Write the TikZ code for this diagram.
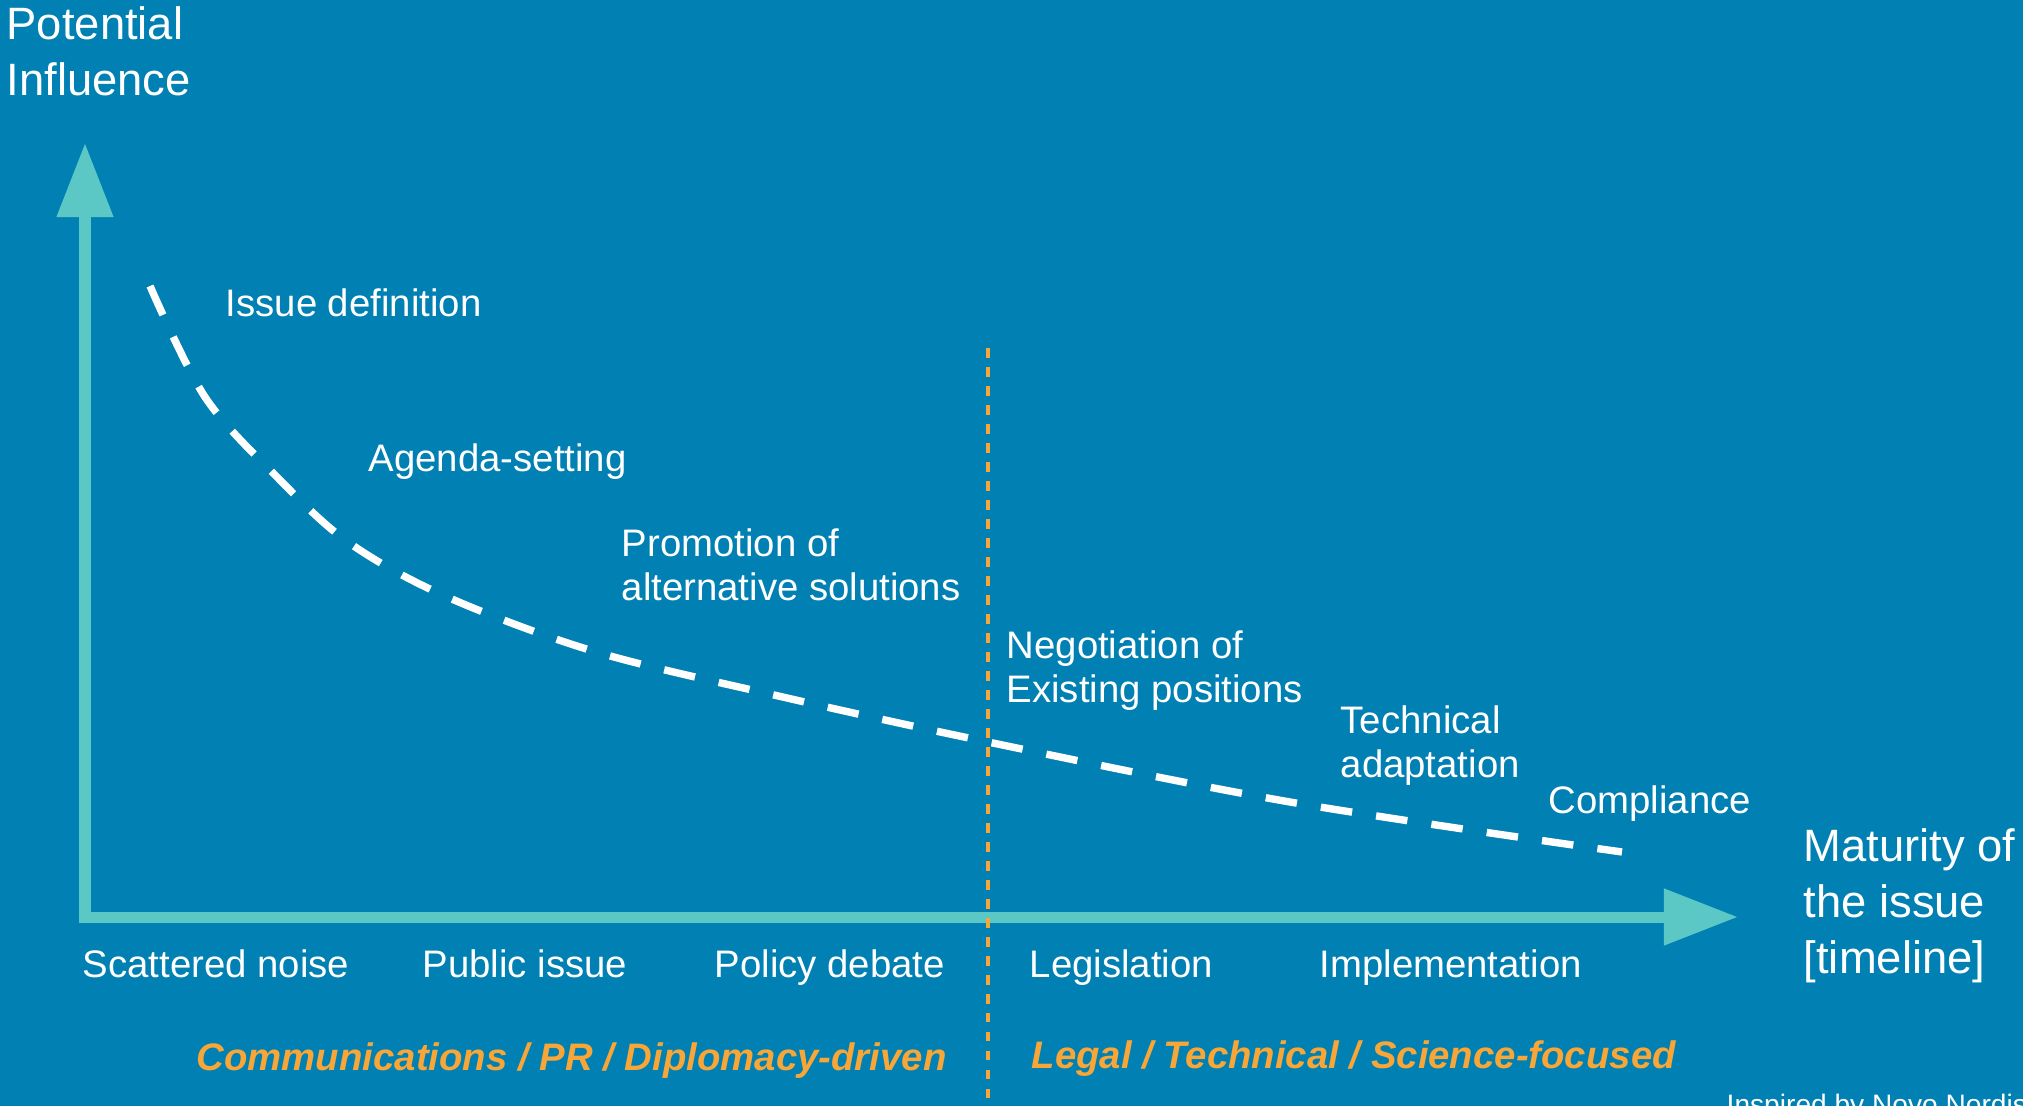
\documentclass[tikz,border=0pt]{standalone}
\usepackage{fontspec}
\setmainfont{Liberation Sans}
\usetikzlibrary{arrows.meta}
\definecolor{bgblue}{HTML}{0080B3}
\definecolor{axisteal}{HTML}{5BC8C5}
\definecolor{accentorange}{HTML}{F7A637}
\tikzset{
  biglabel/.style={font=\fontsize{12.9}{15.9}\selectfont, text=white, align=left, inner sep=0pt, anchor=base west},
  stagelabel/.style={font=\fontsize{10.9}{12.5}\selectfont, text=white, align=left, inner sep=0pt, anchor=base west},
  catlabel/.style={font=\fontsize{10.9}{12.5}\selectfont\bfseries\itshape, text=accentorange, inner sep=0pt, anchor=base west},
  notelabel/.style={font=\fontsize{8}{9.6}\selectfont, text=white, inner sep=0pt, anchor=base west},
  axisline/.style={draw=axisteal, line width=3.13pt, line join=miter,
    {Triangle[length=0.74cm,width=0.54cm,fill=axisteal]}-{Triangle[length=0.74cm,width=0.54cm,fill=axisteal]}},
  influencecurve/.style={draw=white, line width=2.1pt, dash pattern=on 9pt off 6.9pt},
  divider/.style={draw=accentorange, line width=0.9pt, dash pattern=on 2.8pt off 2.6pt}
}
\begin{document}
\begin{tikzpicture}[x=0.01cm,y=-0.01cm]
\fill[bgblue] (0,0) rectangle (2023,1106);
\useasboundingbox (0,0) rectangle (2023,1106);

% axes
\coordinate (origin) at (85,917);
\coordinate (ytip) at (85,143);
\coordinate (xtip) at (1738,917);
\path[axisline] (ytip) -- (origin) -- (xtip);

% divider
\coordinate (dtop) at (988,348);
\coordinate (dbot) at (988,1110);
\path[divider] (dtop) -- (dbot);

% curve
\draw[influencecurve] plot[smooth, tension=0.55] coordinates {
  (150,286) (205,397) (277,477) (348,542) (445,596) (593,651)
  (774,695) (988,742) (1290,802) (1622,852)};

% axis titles
\node[biglabel] (pot) at (6,95) {Potential\\Influence};
\node[biglabel] (mat) at (1803,973) {Maturity of\\the issue\\{}[timeline]};

% stage labels along curve
\node[stagelabel] (issue) at (225,316) {Issue definition};
\node[stagelabel] (agenda) at (368,471) {Agenda-setting};
\node[stagelabel] (promo) at (621,600) {Promotion of\\alternative solutions};
\node[stagelabel] (nego) at (1006,702) {Negotiation of\\Existing positions};
\node[stagelabel] (tech) at (1340,777) {Technical\\adaptation};
\node[stagelabel] (compl) at (1548,813) {Compliance};

% timeline labels
\node[stagelabel] (scat) at (82,977) {Scattered noise};
\node[stagelabel] (pub) at (422,977) {Public issue};
\node[stagelabel] (pol) at (714,977) {Policy debate};
\node[stagelabel] (leg) at (1029,977) {Legislation};
\node[stagelabel] (impl) at (1319,977) {Implementation};

% categories
\node[catlabel] (comm) at (196,1070) {Communications / PR / Diplomacy-driven};
\node[catlabel] (legal) at (1031,1068) {Legal / Technical / Science-focused};

% note
\node[notelabel] (note) at (1726,1114) {Inspired by Novo Nordisk};
\end{tikzpicture}
\end{document}
